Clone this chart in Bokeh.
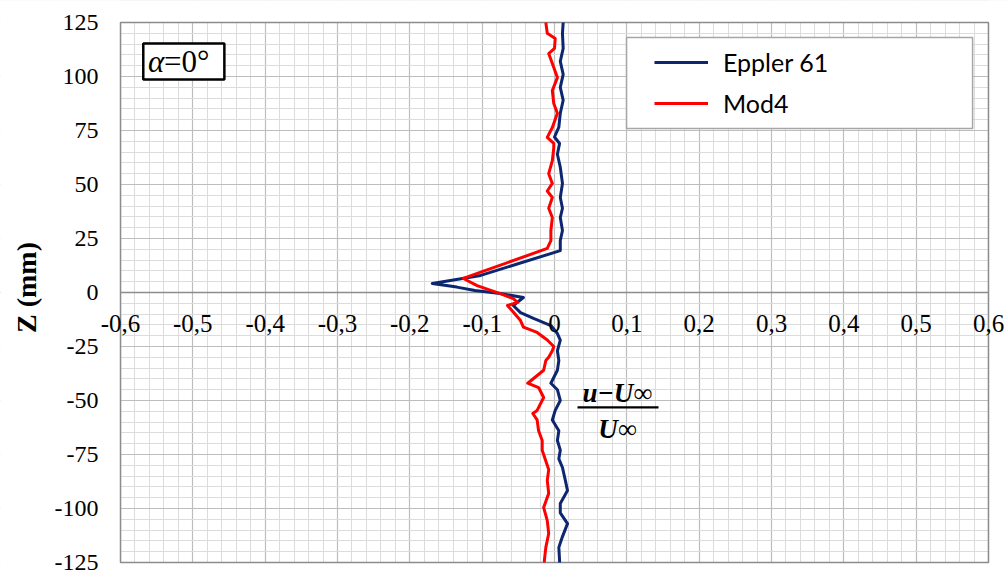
from bokeh.plotting import figure
from bokeh.models import (Grid, SingleIntervalTicker, FixedTicker, Label, BoxAnnotation,
                          Legend, LegendItem, Range1d)
from bokeh.embed import file_html
from bokeh.resources import INLINE

# Velocity deficit profiles (u - U_inf)/U_inf versus height Z (mm)
eppler_z = [125, 120, 113, 107, 101, 95, 89, 83, 76.6, 72, 69, 64, 58, 50.5, 44, 39, 34.7,
            28.7, 24, 19.4, 7.9, 4.2, 2.5, 0.9, -0.5, -2.3, -6, -9.3, -12, -15.3, -19, -22,
            -27, -31.5, -36, -42, -45, -50, -54.6, -59, -64, -68.5, -73, -77, -81, -87,
            -91.7, -97.7, -102, -107, -113, -118, -124, -125]
eppler_u = [0.012, 0.011, 0.012, 0.008, 0.012, 0.008, 0.012, 0.008, 0.006, 0.000, 0.007,
            0.004, 0.008, 0.011, 0.008, 0.011, 0.008, 0.011, 0.008, 0.008, -0.102, -0.169,
            -0.135, -0.110, -0.075, -0.043, -0.057, -0.047, -0.029, -0.005, 0.004, 0.008,
            0.004, 0.006, 0.004, -0.005, 0.004, 0.008, 0.001, -0.003, 0.006, 0.004, 0.008,
            0.006, 0.011, 0.015, 0.018, 0.008, 0.008, 0.018, 0.011, 0.006, 0.007, 0.007]

mod4_z = [125, 120, 117.6, 113, 110.6, 106, 99.5, 93.5, 87.5, 83, 76.4, 71.8, 69, 67, 61,
          55, 50.5, 47, 44, 39, 34.7, 28.7, 24, 20.4, 9.4, 6.5, 3.2, -0.5, -2.8, -4.6, -6,
          -9, -13, -16, -18.5, -22, -25, -27, -30, -31.5, -36, -42, -44, -48.6, -54.6, -56,
          -59, -64, -68.5, -73, -78, -82, -87, -93, -99.5, -105.6, -111.6, -118, -124, -125]
mod4_u = [-0.012, -0.010, 0.001, 0.000, -0.008, -0.003, 0.004, -0.003, -0.001, 0.004,
          -0.003, -0.010, -0.001, -0.001, -0.003, -0.008, -0.003, -0.010, -0.003, -0.008,
          -0.003, -0.005, -0.005, -0.010, -0.102, -0.126, -0.107, -0.075, -0.057, -0.051,
          -0.065, -0.057, -0.047, -0.043, -0.024, -0.010, -0.001, -0.003, -0.008, -0.012,
          -0.015, -0.037, -0.022, -0.015, -0.024, -0.030, -0.024, -0.022, -0.017, -0.017,
          -0.012, -0.008, -0.010, -0.008, -0.015, -0.010, -0.008, -0.012, -0.014, -0.014]

x_ticks = [-0.6, -0.5, -0.4, -0.3, -0.2, -0.1, 0.0, 0.1, 0.2, 0.3, 0.4, 0.5, 0.6]
x_tick_labels = ["-0,6", "-0,5", "-0,4", "-0,3", "-0,2", "-0,1", "0",
                 "0,1", "0,2", "0,3", "0,4", "0,5", "0,6"]
y_ticks = [-125, -100, -75, -50, -25, 0, 25, 50, 75, 100, 125]
y_tick_labels = ["-125", "-100", "-75", "-50", "-25", "0", "25", "50", "75", "100", "125"]

series_names = ["Eppler 61", "Mod4"]
series_colors = ["#0c2670", "#ff0000"]

SERIF = "Liberation Serif"

# page geometry: the plotting box sits inside a full-canvas frame so that
# axis labels pinned to the box are never clipped
W, H = 1008, 574
BOX_L, BOX_R, BOX_T, BOX_B = 120, 988, 22, 562
X0, X1 = x_ticks[0], x_ticks[-1]
Y0, Y1 = y_ticks[0], y_ticks[-1]
sx = (BOX_R - BOX_L) / (X1 - X0)
sy = (BOX_B - BOX_T) / (Y1 - Y0)
XS, XE = X0 - BOX_L / sx, X1 + (W - BOX_R) / sx
YS, YE = Y0 - (H - BOX_B) / sy, Y1 + BOX_T / sy

p = figure(width=W, height=H, x_range=Range1d(XS, XE), y_range=Range1d(YS, YE),
           output_backend="svg", toolbar_location=None,
           min_border=0, min_border_left=0, min_border_right=0,
           min_border_top=0, min_border_bottom=0)
p.background_fill_color = "white"
p.border_fill_color = "white"
p.outline_line_color = None

# fine engineering-paper grids
p.center = [r for r in p.center if not isinstance(r, Grid)]
for dim, tick in ((0, SingleIntervalTicker(interval=0.1, num_minor_ticks=5)),
                  (1, SingleIntervalTicker(interval=25, num_minor_ticks=5))):
    g = Grid(dimension=dim, ticker=tick)
    g.grid_line_color = "#bdbdbd"
    g.grid_line_width = 1.2
    g.minor_grid_line_color = "#dcdcdc"
    g.minor_grid_line_width = 1
    p.add_layout(g, "center")

# darker horizontal line through Z = 0
p.add_layout(Grid(dimension=1, ticker=FixedTicker(ticks=[0]), grid_line_color="#8c8c8c",
                  grid_line_width=1.5), "center")

# white masks around the plotting box hide grid lines outside it
dx, dy = (XE - XS), (YE - YS)
for box in ((XS - dx, X0, YS - dy, YE + dy), (X1, XE + dx, YS - dy, YE + dy),
            (XS - dx, XE + dx, Y1, YE + dy), (XS - dx, XE + dx, YS - dy, Y0)):
    p.add_layout(BoxAnnotation(left=box[0], right=box[1], bottom=box[2], top=box[3],
                               fill_color="white", fill_alpha=1, line_color=None,
                               level="underlay"))
# plotting box outline
p.add_layout(BoxAnnotation(left=X0, right=X1, bottom=Y0, top=Y1, fill_alpha=0,
                           line_color="#8c8c8c", line_alpha=1, line_width=1.5,
                           level="underlay"))

# horizontal axis pinned at Z = 0, labels hanging below the line
xax = p.xaxis[0]
xax.fixed_location = 0
xax.ticker = FixedTicker(ticks=x_ticks, minor_ticks=[])
xax.major_label_overrides = dict(zip(x_ticks, x_tick_labels))
xax.axis_line_color = None
xax.major_tick_line_color = None
xax.minor_tick_line_color = None
xax.major_tick_in = 0
xax.major_tick_out = 0
xax.minor_tick_in = 0
xax.minor_tick_out = 0
xax.major_label_standoff = 22
xax.major_label_text_font = SERIF
xax.major_label_text_font_size = "25px"
xax.major_label_text_color = "black"

# vertical axis pinned to the left edge of the box
yax = p.yaxis[0]
yax.fixed_location = X0
yax.ticker = FixedTicker(ticks=y_ticks, minor_ticks=[])
yax.major_label_overrides = dict(zip(y_ticks, y_tick_labels))
yax.axis_line_color = None
yax.major_tick_line_color = None
yax.minor_tick_line_color = None
yax.major_tick_in = 0
yax.major_tick_out = 0
yax.minor_tick_in = 0
yax.minor_tick_out = 0
yax.major_label_standoff = 22
yax.major_label_text_font = SERIF
yax.major_label_text_font_size = "24px"
yax.major_label_text_color = "black"
yax.axis_label = "Z (mm)"
yax.axis_label_text_font = SERIF
yax.axis_label_text_font_size = "28px"
yax.axis_label_text_font_style = "bold"
yax.axis_label_text_color = "black"
yax.axis_label_standoff = 10

r1 = p.line(eppler_u, eppler_z, line_color=series_colors[0], line_width=3, line_join="round")
r2 = p.line(mod4_u, mod4_z, line_color=series_colors[1], line_width=3, line_join="round")

# legend frame
p.add_layout(BoxAnnotation(left=0.0996, right=0.578, top=118.1, bottom=75.9,
                           fill_color="white", fill_alpha=1, line_color="#a6a6a6",
                           line_alpha=1, line_width=1.5))
legend = Legend(items=[LegendItem(label=series_names[0], renderers=[r1]),
                       LegendItem(label=series_names[1], renderers=[r2])],
                location=(654, H - 118), orientation="vertical")
legend.border_line_alpha = 0
legend.background_fill_alpha = 0
legend.padding = 0
legend.margin = 0
legend.spacing = 11
legend.glyph_width = 54
legend.glyph_height = 30
legend.label_height = 30
legend.label_standoff = 15
legend.label_text_font = "Lato"
legend.label_text_font_size = "25px"
legend.label_text_color = "black"
p.add_layout(legend)

# angle-of-attack box
p.add_layout(BoxAnnotation(left=-0.5685, right=-0.4564, top=115.3, bottom=98.6,
                           fill_color="white", fill_alpha=1, line_color="black",
                           line_alpha=1, line_width=2.5))
p.add_layout(Label(x=-0.5620, y=106.9, text="α", text_font=SERIF, text_font_size="31px",
                   text_font_style="italic", text_baseline="middle", text_color="black"))
p.add_layout(Label(x=-0.5400, y=106.9, text="=0°", text_font=SERIF, text_font_size="31px",
                   text_baseline="middle", text_color="black"))

# axis quantity as a fraction
p.add_layout(Label(x=0.0871, y=-46.3, text="u−U∞", text_font=SERIF, text_font_size="27px",
                   text_font_style="bold italic", text_align="center",
                   text_baseline="middle", text_color="black"))
p.add_layout(BoxAnnotation(left=0.0318, right=0.1438, top=-52.7, bottom=-53.7,
                           fill_color="black", fill_alpha=1, line_color=None))
p.add_layout(Label(x=0.0871, y=-63.0, text="U∞", text_font=SERIF, text_font_size="27px",
                   text_font_style="bold italic", text_align="center",
                   text_baseline="middle", text_color="black"))

open("out.html", "w").write(file_html(p, INLINE))
